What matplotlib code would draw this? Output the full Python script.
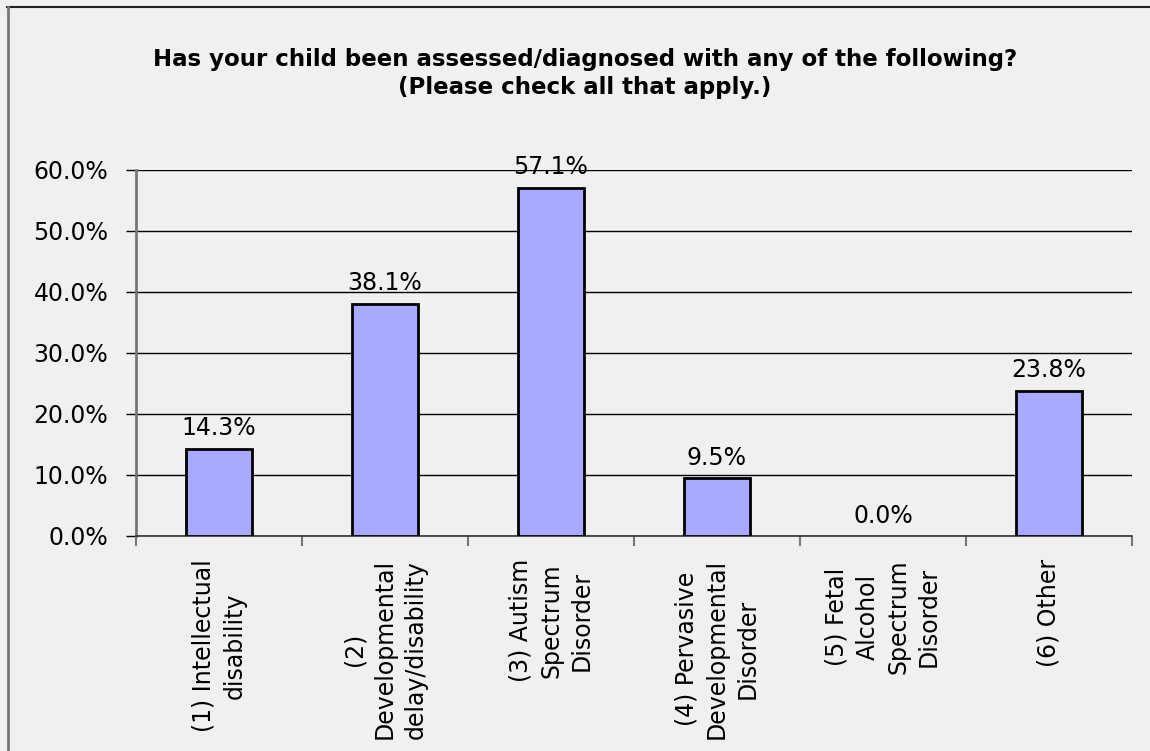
import matplotlib.pyplot as plt
from matplotlib.lines import Line2D
import numpy as np

categories = [
    "(1) Intellectual\ndisability",
    "(2)\nDevelopmental\ndelay/disability",
    "(3) Autism\nSpectrum\nDisorder",
    "(4) Pervasive\nDevelopmental\nDisorder",
    "(5) Fetal\nAlcohol\nSpectrum\nDisorder",
    "(6) Other",
]
percent = [14.3, 38.1, 57.1, 9.5, 0.0, 23.8]
y_ticks = [0, 10, 20, 30, 40, 50, 60]

bg = "#f0f0f0"
plt.rcParams["font.family"] = ["DejaVu Sans"]

fig = plt.figure(figsize=(11.5, 7.51), dpi=100, facecolor=bg)
ax = fig.add_axes([0.1183, 0.2863, 0.866, 0.4874])
ax.set_facecolor(bg)

x = np.arange(len(categories))
# zero-height bars get no outline
edge_widths = [2 if v > 0 else 0 for v in percent]
ax.bar(x, percent, width=0.4, color="#a9a9ff", edgecolor="black",
       linewidth=edge_widths, zorder=3)

for xi, v in zip(x, percent):
    ax.annotate(f"{v:.1f}%", (xi, v), xytext=(0, 6), textcoords="offset points",
                ha="center", va="bottom", fontsize=17)

ax.set_xlim(-0.5, len(categories) - 0.5)
ax.set_ylim(0, 60)
ax.set_yticks(y_ticks)
ax.set_yticklabels([f"{t:.1f}%" for t in y_ticks], fontsize=17)
ax.yaxis.grid(True, color="black", linewidth=1, zorder=0)
ax.tick_params(axis="y", length=7, width=1, color="black", pad=13)

# category separators as ticks; labels placed by hand below
ax.set_xticks(np.arange(len(categories) + 1) - 0.5)
ax.set_xticklabels([])
ax.tick_params(axis="x", length=7, width=1.5, color="#777777")
for xi, lab in zip(x, categories):
    ax.text(xi, -3.8, lab, rotation=90, ha="center", va="top",
            multialignment="center", fontsize=17, linespacing=1.35)

for side in ["top", "right"]:
    ax.spines[side].set_visible(False)
ax.spines["left"].set_color("#777777")
ax.spines["left"].set_linewidth(2)
ax.spines["bottom"].set_color("#333333")
ax.spines["bottom"].set_linewidth(1.2)

fig.text(0.5087, 0.902, "Has your child been assessed/diagnosed with any of the following?\n(Please check all that apply.)",
         ha="center", va="center", fontsize=16.5, fontweight="bold", linespacing=1.25)

# outer chart frame (top and left edges)
fig.add_artist(Line2D([7 / 1150, 1], [1 - 7 / 751, 1 - 7 / 751], color="#222222", linewidth=1.5))
fig.add_artist(Line2D([7.5 / 1150, 7.5 / 1150], [0, 1 - 7 / 751], color="#777777", linewidth=2))

fig.savefig("out.png", dpi=100, facecolor=bg)
